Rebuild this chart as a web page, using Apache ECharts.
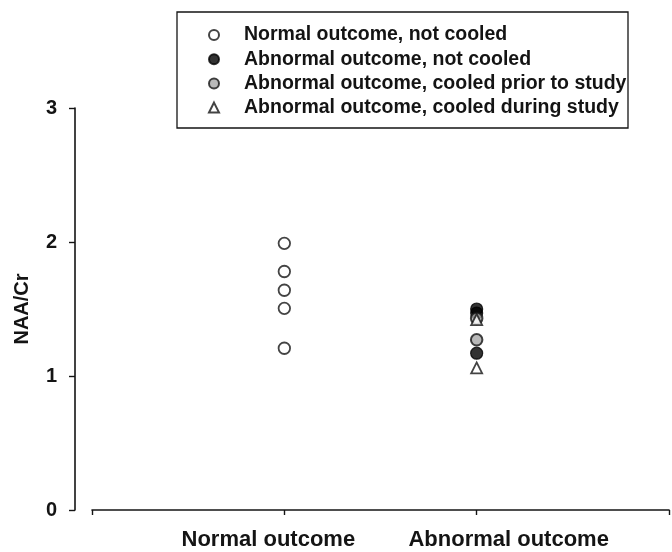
<!DOCTYPE html>
<html>
<head>
<meta charset="utf-8">
<script src="https://cdn.jsdelivr.net/npm/echarts@6/dist/echarts.min.js"></script>
<style>html,body{margin:0;padding:0;background:#fff}#c{width:672px;height:552px}</style>
</head>
<body>
<div id="c"></div>
<script>
// ---- data ----
const xTickLabels = ['', 'Normal outcome', 'Abnormal outcome', ''];
const seriesNames = [
  'Normal outcome, not cooled',
  'Abnormal outcome, not cooled',
  'Abnormal outcome, cooled prior to study',
  'Abnormal outcome, cooled during study'
];
const normalNotCooled = [1.99, 1.78, 1.64, 1.505, 1.207];   // at x = 1
const abnormalNotCooled = [1.50, 1.47, 1.17];               // at x = 2
const abnormalCooledPrior = [1.43, 1.27];                   // at x = 2
const abnormalCooledDuring = [1.42, 1.06];                  // at x = 2
const yTicks = [0, 1, 2, 3];

const FONT = 'Liberation Sans, Arial, sans-serif';
const INK = '#141414';

const chart = echarts.init(document.getElementById('c'), null, {renderer: 'canvas'});

function pts(x, arr) { return arr.map(v => [x, v]); }

const option = {
  backgroundColor: '#ffffff',
  animation: false,
  grid: {left: 92, right: 1, top: 108, bottom: 42},
  graphic: [{
    type: 'rect',
    shape: {x: 177, y: 12, width: 451, height: 116},
    style: {fill: 'none', stroke: INK, lineWidth: 1.3},
    silent: true
  }],
  legend: {
    orient: 'vertical',
    left: 208,
    top: 25,
    padding: 0,
    itemWidth: 10,
    itemHeight: 10,
    itemGap: 4.2,
    data: seriesNames,
    formatter: n => '{t|' + n + '}',
    textStyle: {
      fontFamily: FONT, fontWeight: 'bold', fontSize: 19.5, color: INK,
      rich: {t: {fontFamily: FONT, fontWeight: 'bold', fontSize: 19.5, color: INK, lineHeight: 20, padding: [0, 0, 0, 20]}}
    }
  },
  xAxis: {
    type: 'value',
    min: 0, max: 3, interval: 1,
    splitLine: {show: false},
    axisLine: {show: true, onZero: false, lineStyle: {color: INK, width: 1.6}},
    axisTick: {show: true, inside: false, length: 5, lineStyle: {color: INK, width: 1.4}},
    axisLabel: {
      margin: 19,
      formatter: v => {
        const s = xTickLabels[Math.round(v)] || '';
        if (!s) return '';
        return (Math.round(v) === 1 ? '{a|' : '{b|') + s + '}';
      },
      rich: {
        a: {fontFamily: FONT, fontWeight: 'bold', fontSize: 22, color: INK, padding: [0, 32, 0, 0]},
        b: {fontFamily: FONT, fontWeight: 'bold', fontSize: 22, color: INK, padding: [0, 0, 0, 64]}
      }
    }
  },
  yAxis: {
    type: 'value',
    min: yTicks[0], max: yTicks[yTicks.length - 1], interval: 1,
    offset: 17,
    name: 'NAA/Cr',
    nameLocation: 'middle',
    nameRotate: 90,
    nameGap: 43,
    nameTextStyle: {fontFamily: FONT, fontWeight: 'bold', fontSize: 20, color: INK},
    splitLine: {show: false},
    axisLine: {show: true, onZero: false, lineStyle: {color: INK, width: 1.6}},
    axisTick: {show: true, inside: false, length: 6, lineStyle: {color: INK, width: 1.4}},
    axisLabel: {margin: 18, fontFamily: FONT, fontWeight: 'bold', fontSize: 20, color: INK}
  },
  series: [
    {
      name: seriesNames[0], type: 'scatter', symbol: 'circle', symbolSize: 11.5,
      itemStyle: {color: '#ffffff', borderColor: INK, borderWidth: 1.8},
      data: pts(1, normalNotCooled)
    },
    {
      name: seriesNames[1], type: 'scatter', symbol: 'circle', symbolSize: 12,
      itemStyle: {color: '#000000', borderColor: '#000000', borderWidth: 1.2},
      data: pts(2, abnormalNotCooled)
    },
    {
      name: seriesNames[2], type: 'scatter', symbol: 'circle', symbolSize: 11.5,
      itemStyle: {color: '#a8a8a8', borderColor: INK, borderWidth: 2},
      data: pts(2, abnormalCooledPrior)
    },
    {
      name: seriesNames[3], type: 'scatter', symbol: 'triangle', symbolSize: 11,
      itemStyle: {color: '#ffffff', borderColor: INK, borderWidth: 1.8},
      data: pts(2, abnormalCooledDuring)
    }
  ]
};
chart.setOption(option);
</script>
</body>
</html>
